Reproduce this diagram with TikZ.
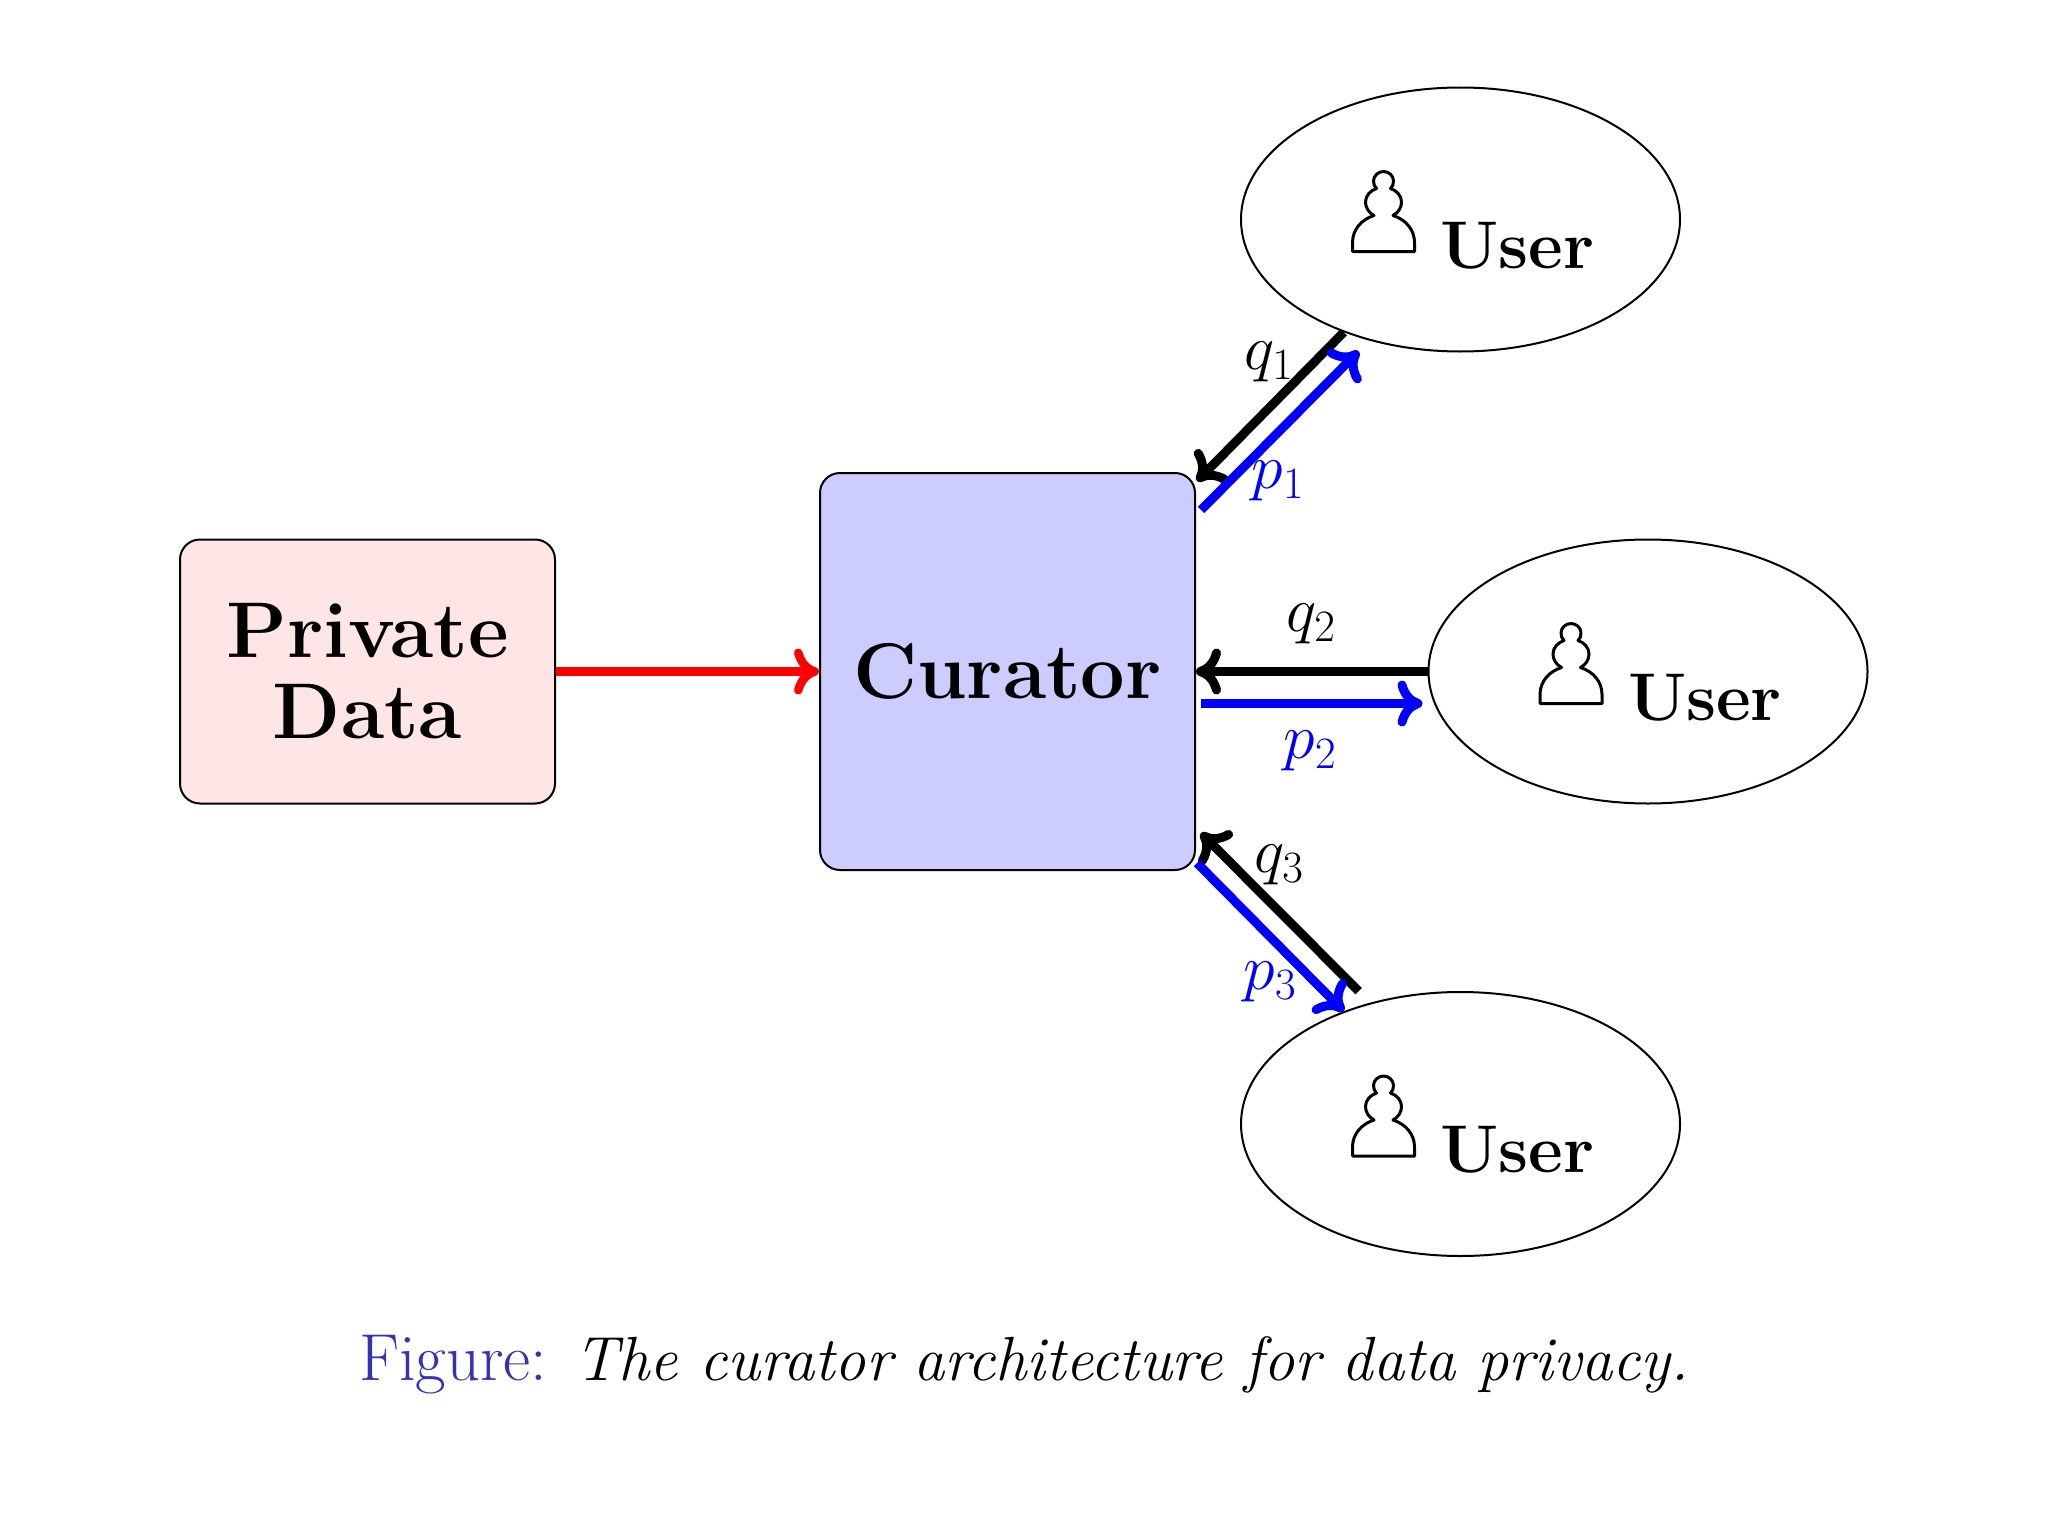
\RequirePackage{fix-cm}
\documentclass[tikz,border=0pt]{standalone}
\usepackage{amsmath}
\usepackage{fontspec}
\usetikzlibrary{arrows.meta,calc,shapes.geometric}

\definecolor{capblue}{RGB}{51,51,179}

\tikzset{
  >={Computer Modern Rightarrow[length=25pt,width=46pt]},
  box/.style={draw=black, line width=2pt, rounded corners=20pt, inner sep=0pt,
    minimum width=375pt, align=center, font=\fontsize{79}{81}\selectfont\bfseries},
  user/.style={ellipse, draw=black, line width=2pt, inner sep=0pt,
    minimum width=439pt, minimum height=264pt},
  usertxt/.style={anchor=base, inner sep=0pt, font=\fontsize{67.5}{70}\selectfont\bfseries},
  lab/.style={inner sep=0pt, font=\fontsize{64}{66}\selectfont},
  qarr/.style={->, draw=black, line width=9pt},
  parr/.style={->, draw=blue, line width=9pt},
  pawn/.pic={
    \draw[line width=3pt, line join=round] (-31,0) -- (31,0) -- (31,-9)
      .. controls (31,-22) and (22,-32) .. (9.5,-36)
      .. controls (15,-39) and (18,-44) .. (18,-49.5)
      .. controls (18,-56) and (13,-61) .. (7,-63)
      .. controls (9,-65) and (10,-67) .. (10,-70.5)
      .. controls (10,-76) and (5,-80) .. (0,-80)
      .. controls (-5,-80) and (-10,-76) .. (-10,-70.5)
      .. controls (-10,-67) and (-9,-65) .. (-7,-63)
      .. controls (-13,-61) and (-18,-56) .. (-18,-49.5)
      .. controls (-18,-44) and (-15,-39) .. (-9.5,-36)
      .. controls (-22,-32) and (-31,-22) .. (-31,-9) -- cycle;
  }
}

\begin{document}
\begin{tikzpicture}[x=1pt, y=-1pt]
  \useasboundingbox (0,0) rectangle (2048,1536);

  % boxes
  \node[box, fill=red!10, minimum height=264pt] (data) at (367.5,671.5) {Private\\Data};
  \node[box, fill=blue!20, minimum height=397pt] (cur) at (1007.5,671.5) {Curator};

  % users
  \node[user] (u1) at (1460.5,219.5) {};
  \node[user] (u2) at (1648,671.5) {};
  \node[user] (u3) at (1460.5,1124) {};

  \foreach \u in {u1,u2,u3} {
    \pic at ($(\u)+(-77,32)$) {pawn};
    \node[usertxt] (\u txt) at ($(\u)+(57,48.5)$) {User};
  }

  % data to curator
  \draw[->, draw=red, line width=8.5pt] (data.east |- cur.center) -- (cur.west);

  % queries and answers
  \draw[qarr] (u1.224) -- ($(cur.north east)+(1,9)$);
  \draw[parr] ($(cur.north east)+(5,38)$) -- ($(u1.224)+(15,19)$);
  \draw[qarr] (u2.west) -- (cur.east |- u2.west);
  \draw[parr] ($(cur.east)+(5,32)$) -- ($(u2.west)+(-5,32)$);
  \draw[qarr] ($(u3.136)+(15,-20)$) -- ($(cur.south east)+(5,-38)$);
  \draw[parr] ($(cur.south east)+(1,-8)$) -- (u3.136);

  % labels
  \node[lab] (q1) at (1269,362) {$q_1$};
  \node[lab, text=blue] (p1) at (1278,481) {$p_1$};
  \node[lab] (q2) at (1311,624) {$q_2$};
  \node[lab, text=blue] (p2) at (1310,751) {$p_2$};
  \node[lab] (q3) at (1279,865) {$q_3$};
  \node[lab, text=blue] (p3) at (1270,982) {$p_3$};

  % caption
  \node[anchor=base west, inner sep=0pt, font=\fontsize{62.4}{66}\selectfont] (cap) at (359,1380)
    {\textcolor{capblue}{\fontsize{66.5}{66}\selectfont Figure:}\hspace{0.44em}\textit{The curator architecture for data privacy.}};
\end{tikzpicture}
\end{document}
